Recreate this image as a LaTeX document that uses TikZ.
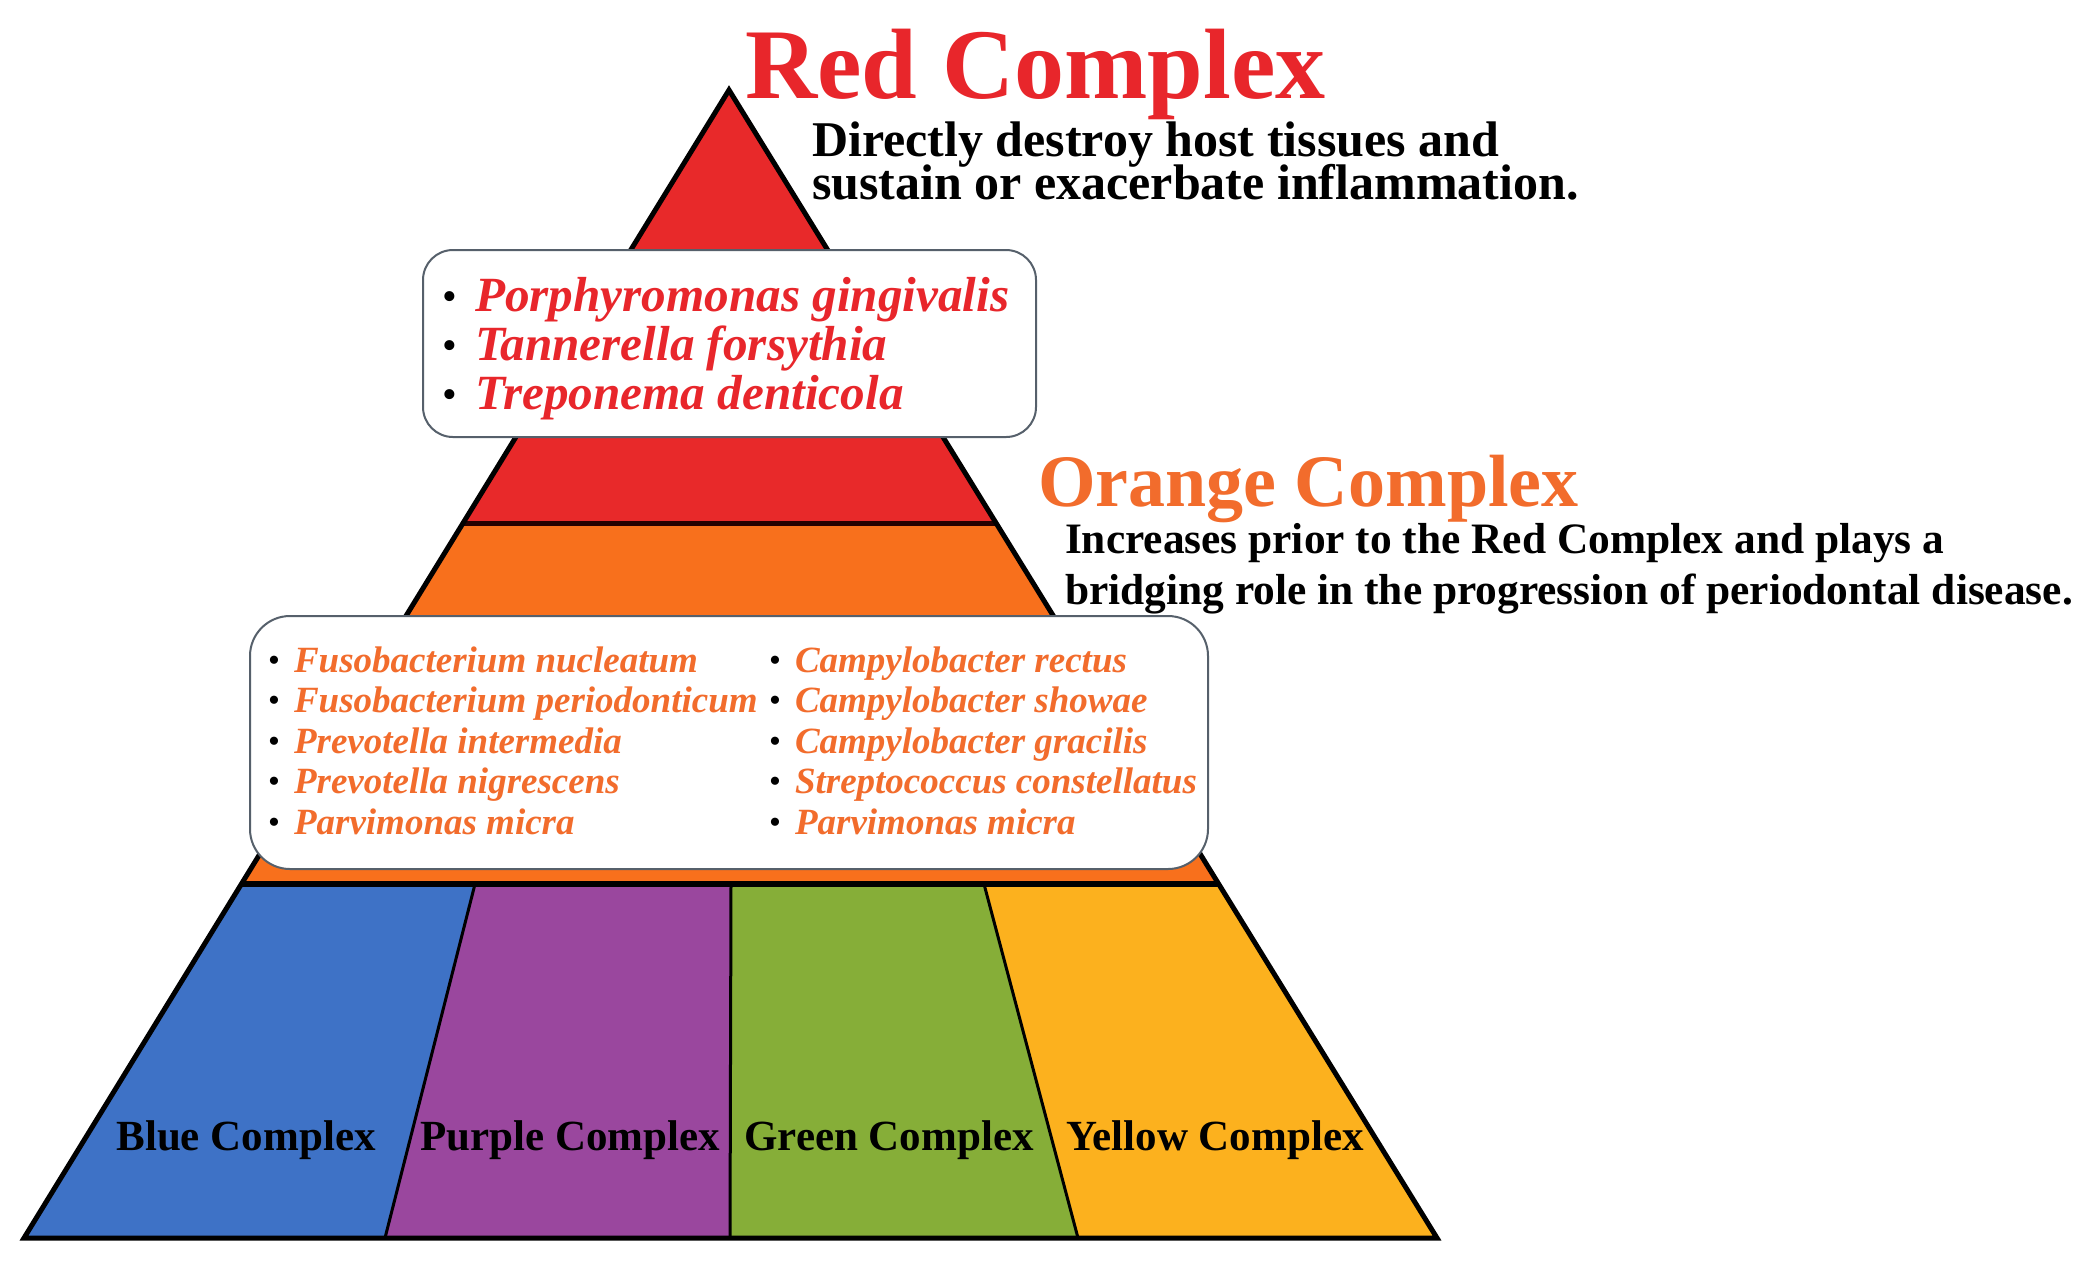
\documentclass[tikz,border=0pt]{standalone}
\usepackage{fontspec}
\setmainfont{Liberation Serif}
\definecolor{cred}{HTML}{E8292A}
\definecolor{credtxt}{HTML}{E8262B}
\definecolor{corange}{HTML}{F8701C}
\definecolor{corangetxt}{HTML}{F26C2C}
\definecolor{cblue}{HTML}{3E72C6}
\definecolor{cpurple}{HTML}{9A479E}
\definecolor{cgreen}{HTML}{86AE38}
\definecolor{cyellow}{HTML}{FCB11E}
\definecolor{boxline}{HTML}{56606B}
\newcommand{\redbul}{\llap{\raisebox{0.5pt}{\color{black}\fontsize{21}{21}\selectfont\upshape\mdseries •}\hspace{9pt}}}
\newcommand{\orbul}{\llap{\raisebox{0.3pt}{\color{black}\fontsize{17}{17}\selectfont\upshape\mdseries •}\hspace{7pt}}}
\begin{document}
\begin{tikzpicture}[x=0.5pt,y=-0.5pt,
  txt/.style={inner sep=0pt, outer sep=0pt, anchor=base west},
  ctxt/.style={inner sep=0pt, outer sep=0pt, anchor=base},
  title/.style={txt, font=\fontsize{50}{50}\selectfont\bfseries},
  desc/.style={txt, font=\fontsize{25}{25}\selectfont\bfseries},
  desc2/.style={txt, font=\fontsize{21.7}{21.7}\selectfont\bfseries},
  redsp/.style={txt, text=credtxt, font=\fontsize{24.6}{24.6}\selectfont\bfseries\itshape},
  orsp/.style={txt, text=corangetxt, font=\fontsize{18.5}{18.5}\selectfont\bfseries\itshape},
  lab/.style={ctxt, font=\fontsize{21.5}{21.5}\selectfont\bfseries},
  spbox/.style={draw=boxline, line width=1pt, fill=white},
  edge/.style={line width=2.5pt, line join=miter},
]
\useasboundingbox (0,0) rectangle (2087,1260);
\fill[white] (0,0) rectangle (2087,1260);
% coordinates
\coordinate (A) at (729,90);
\coordinate (BL) at (24,1238);
\coordinate (BR) at (1437,1238);
\coordinate (RL) at (463,523);
\coordinate (RR) at (996,523);
\coordinate (OL) at (241,884);
\coordinate (OR) at (1219,884);
\coordinate (T1) at (475,884);
\coordinate (T2) at (731,884);
\coordinate (T3) at (984,884);
\coordinate (B1) at (385,1238);
\coordinate (B2) at (730,1238);
\coordinate (B3) at (1078,1238);
% fills
\fill[cred] (A) -- (RL) -- (RR) -- cycle;
\fill[corange] (RL) -- (OL) -- (OR) -- (RR) -- cycle;
\fill[cblue] (OL) -- (BL) -- (B1) -- (T1) -- cycle;
\fill[cpurple] (T1) -- (B1) -- (B2) -- (T2) -- cycle;
\fill[cgreen] (T2) -- (B2) -- (B3) -- (T3) -- cycle;
\fill[cyellow] (T3) -- (B3) -- (BR) -- (OR) -- cycle;
% lines
\draw[line width=1.5pt] (T1) -- (B1);
\draw[line width=1.5pt] (T2) -- (B2);
\draw[line width=1.5pt] (T3) -- (B3);
\draw[line width=2.5pt, black!85!red] (RL) -- (RR);
\draw[line width=3pt] (OL) -- (OR);
\draw[edge] (A) -- (BL) -- (BR) -- cycle;
% boxes
\draw[spbox, rounded corners=15pt] (423,250) rectangle (1036,437);
\draw[spbox, rounded corners=20pt] (250,616) rectangle (1208,869);
% titles
\node[title, text=credtxt] (redt) at (745,98) {Red Complex};
\node[desc] (redd1) at (812,156) {Directly destroy host tissues and};
\node[desc] (redd2) at (812,199) {sustain or exacerbate inflammation.};
\node[title, text=corangetxt, font=\fontsize{37}{37}\selectfont\bfseries] (ort) at (1038,506) {Orange Complex};
\node[desc2] (ord1) at (1065,553) {Increases prior to the Red Complex and plays a};
\node[desc2] (ord2) at (1065,604) {bridging role in the progression of periodontal disease.};
% red species
\node[redsp] (r1) at (475,311) {\redbul Porphyromonas gingivalis};
\node[redsp] (r2) at (475,360) {\redbul Tannerella forsythia};
\node[redsp] (r3) at (475,409) {\redbul Treponema denticola};
% orange species
\node[orsp] (o1) at (294,672) {\orbul Fusobacterium nucleatum};
\node[orsp] (o2) at (294,712) {\orbul Fusobacterium periodonticum};
\node[orsp] (o3) at (294,753) {\orbul Prevotella intermedia};
\node[orsp] (o4) at (294,793) {\orbul Prevotella nigrescens};
\node[orsp] (o5) at (294,834) {\orbul Parvimonas micra};
\node[orsp] (p1) at (795,672) {\orbul Campylobacter rectus};
\node[orsp] (p2) at (795,712) {\orbul Campylobacter showae};
\node[orsp] (p3) at (795,753) {\orbul Campylobacter gracilis};
\node[orsp] (p4) at (795,793) {\orbul Streptococcus constellatus};
\node[orsp] (p5) at (795,834) {\orbul Parvimonas micra};
% bottom labels
\node[lab] (blue) at (246,1150) {Blue Complex};
\node[lab] (purple) at (570,1150) {Purple Complex};
\node[lab] (green) at (889,1150) {Green Complex};
\node[lab] (yellow) at (1215,1150) {Yellow Complex};
\end{tikzpicture}
\end{document}
